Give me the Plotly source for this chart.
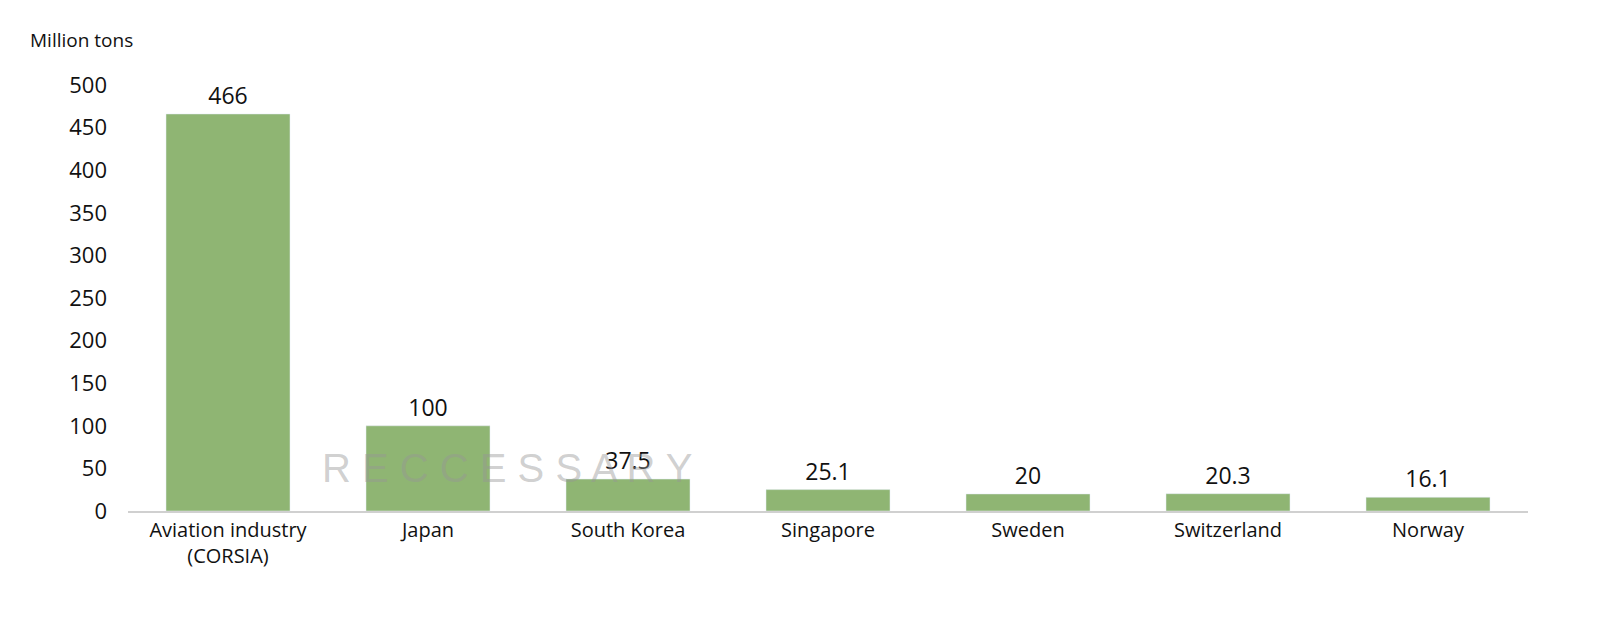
import plotly.graph_objects as go

categories = ["Aviation industry<br>(CORSIA)", "Japan", "South Korea", "Singapore", "Sweden", "Switzerland", "Norway"]
values = [466, 100, 37.5, 25.1, 20, 20.3, 16.1]
labels = ["466", "100", "37.5", "25.1", "20", "20.3", "16.1"]

fig = go.Figure(go.Bar(
    x=categories, y=values, width=0.62, marker_color="#8fb573",
    text=labels, textposition="outside", cliponaxis=False,
    textfont=dict(size=23, color="#111"),
))
W, H = 1600, 627
l, r, t, b = 120, 80, 77, 124
fig.update_layout(
    width=W, height=H, margin=dict(l=l, r=r, t=t, b=b),
    plot_bgcolor="white", paper_bgcolor="white",
    font=dict(family="Open Sans, Liberation Sans, sans-serif", color="#111"),
    showlegend=False,
    xaxis=dict(range=[-0.5, 6.5], showline=True, linecolor="#d0d0d0", linewidth=1.5,
               tickfont=dict(size=20), ticks=""),
    yaxis=dict(range=[0, 500], dtick=50, showgrid=False, zeroline=False,
               tickfont=dict(size=22), ticklabelstandoff=20),
    annotations=[
        dict(text="Million tons", xref="paper", yref="paper", x=-(l - 20) / (W - l - r), y=1 + (t - 32) / (H - t - b),
             xanchor="left", yanchor="middle", showarrow=False, font=dict(size=19)),
        dict(text="R E C C E S S A R Y", xref="paper", yref="paper", x=(500 - l) / (W - l - r), y=(503 - 460) / (H - t - b),
             xanchor="center", yanchor="middle", showarrow=False,
             font=dict(size=40, color="rgba(150,150,150,0.45)", family="Liberation Sans"), ),
    ],
)
fig.write_html("out.html")
